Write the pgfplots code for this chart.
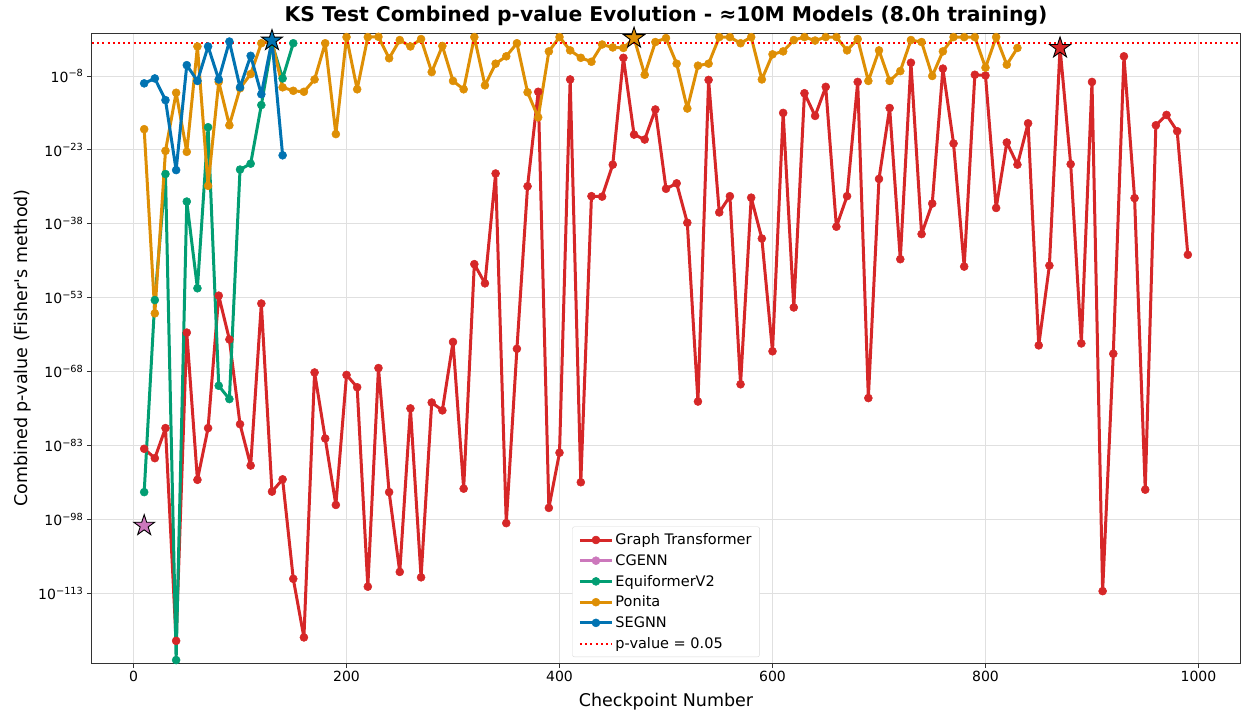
\documentclass[border=0pt]{standalone}
\usepackage{fontspec}
\setmainfont{DejaVu Sans}
\usepackage{pgfplots}
\pgfplotsset{compat=1.18}
\definecolor{cRed}{HTML}{D62728}
\definecolor{cPink}{HTML}{CC78BC}
\definecolor{cGreen}{HTML}{029E73}
\definecolor{cOrange}{HTML}{DE8F05}
\definecolor{cBlue}{HTML}{0173B2}
\pgfdeclareplotmark{fstar}{%
  \pgfpathmoveto{\pgfpointpolar{90}{\pgfplotmarksize}}%
  \pgfpathlineto{\pgfpointpolar{126}{0.382\pgfplotmarksize}}%
  \pgfpathlineto{\pgfpointpolar{162}{\pgfplotmarksize}}%
  \pgfpathlineto{\pgfpointpolar{198}{0.382\pgfplotmarksize}}%
  \pgfpathlineto{\pgfpointpolar{234}{\pgfplotmarksize}}%
  \pgfpathlineto{\pgfpointpolar{270}{0.382\pgfplotmarksize}}%
  \pgfpathlineto{\pgfpointpolar{306}{\pgfplotmarksize}}%
  \pgfpathlineto{\pgfpointpolar{342}{0.382\pgfplotmarksize}}%
  \pgfpathlineto{\pgfpointpolar{18}{\pgfplotmarksize}}%
  \pgfpathlineto{\pgfpointpolar{54}{0.382\pgfplotmarksize}}%
  \pgfpathclose
  \pgfusepathqfillstroke
}
\pgfplotsset{series/.style={#1, line width=3pt, line join=round, mark=*, mark size=4pt, mark options={solid, line width=0.5pt, fill=#1, draw=#1}}}
\begin{document}
\begin{tikzpicture}
\begin{axis}[
  scale only axis, width=1148pt, height=630pt,
  xmin=-39, xmax=1039,
  ymode=log, ymin=6.3e-128, ymax=5.4,
  xtick={0,200,400,600,800,1000},
  ytick={1e-113,1e-98,1e-83,1e-68,1e-53,1e-38,1e-23,1e-8},
  yticklabels={10\textsuperscript{−113},10\textsuperscript{−98},10\textsuperscript{−83},10\textsuperscript{−68},10\textsuperscript{−53},10\textsuperscript{−38},10\textsuperscript{−23},10\textsuperscript{−8}},
  minor tick num=0,
  xtick pos=bottom, ytick pos=left,
  tick align=outside, major tick length=5pt,
  tick style={black!80, line width=0.9pt},
  xticklabel style={/pgf/number format/assume math mode=true, /pgf/number format/1000 sep={}},
  ticklabel style={font=\fontsize{14}{16}\selectfont},
  grid=major, major grid style={black!12, line width=0.9pt},
  axis line style={black!80, line width=1pt},
  title={KS Test Combined p-value Evolution - ≈10M Models (8.0h training)},
  title style={font=\fontsize{20.3}{23}\selectfont\bfseries, yshift=-2pt},
  xlabel={Checkpoint Number},
  xlabel style={yshift=-4pt},
  ylabel={Combined p-value (Fisher\textquotesingle s method)},
  label style={font=\fontsize{17.5}{20}\selectfont},
  legend style={at={(0.5,0.0095)}, anchor=south, draw=black!15, rounded corners=2pt, fill=white,
    font=\fontsize{14.5}{17}\selectfont, row sep=4.3pt, inner xsep=6pt, inner ysep=5pt, cells={anchor=west}},
  legend image code/.code={\draw[mark repeat=2,mark phase=2] plot coordinates {(0pt,0pt)(16pt,0pt)(32pt,0pt)};},
]
% Graph Transformer
\addplot[series=cRed] coordinates {
(10,2.0e-84)(20,2.5e-86)(30,3.2e-80)(40,2.0e-123)(50,7.9e-61)(60,1e-90)(70,3.2e-80)(80,2.5e-53)(90,3.2e-62)(100,2.0e-79)
(110,7.9e-88)(120,6.3e-55)(130,4.0e-93)(140,1.26e-90)(150,7.9e-111)(160,1e-122)(170,6.3e-69)(180,2.5e-82)(190,7.9e-96)(200,2.0e-69)
(210,6.3e-72)(220,2.0e-112)(230,5.0e-68)(240,3.2e-93)(250,2.0e-109)(260,3.2e-76)(270,1.6e-110)(280,5.0e-75)(290,1.26e-76)(300,1e-62)
(310,1.6e-92)(320,6.3e-47)(330,7.9e-51)(340,1.6e-28)(350,1.6e-99)(360,4.0e-64)(370,4.0e-31)(380,6.3e-12)(390,2.0e-96)(400,3.2e-85)
(410,2.0e-9)(420,3.2e-91)(430,4.0e-33)(440,3.2e-33)(450,1e-26)(460,5.0e-5)(470,1.26e-20)(480,1.26e-21)(490,1.6e-15)(500,1.26e-31)
(510,1.6e-30)(520,1.6e-38)(530,7.9e-75)(540,1.6e-9)(550,2.0e-36)(560,4.0e-33)(570,2.5e-71)(580,2.0e-33)(590,1e-41)(600,1.26e-64)
(610,3.2e-16)(620,1e-55)(630,3.2e-12)(640,7.9e-17)(650,6.3e-11)(660,2.5e-39)(670,4.0e-33)(680,6.3e-10)(690,4.0e-74)(700,1.26e-29)
(710,3.2e-15)(720,6.3e-46)(730,5.0e-6)(740,7.9e-41)(750,1.26e-34)(760,3.2e-7)(770,2.0e-22)(780,2.0e-47)(790,1.8e-8)(800,1.3e-8)
(810,1.6e-35)(820,3.2e-22)(830,1e-26)(840,2.5e-18)(850,2.0e-63)(860,3.2e-47)(870,5.0e-3)(880,1.26e-26)(890,5.0e-63)(900,6.3e-10)
(910,2.5e-113)(920,4.0e-65)(930,1e-4)(940,1.6e-33)(950,1e-92)(960,1e-18)(970,1.26e-16)(980,6.3e-20)(990,5.0e-45)
};
\addlegendentry{Graph Transformer}
% CGENN
\addplot[series=cPink] coordinates {(10,5e-100)};
\addlegendentry{CGENN}
% EquiformerV2
\addplot[series=cGreen] coordinates {
(10,3.2e-93)(20,3.2e-54)(30,1.26e-28)(40,2.5e-127)(50,3.2e-34)(60,7.9e-52)(70,4.0e-19)(80,1.26e-71)(90,2.5e-74)(100,1e-27)
(110,1.6e-26)(120,1.26e-14)(130,4.5e-2)(140,3.2e-9)(150,4.5e-2)
};
\addlegendentry{EquiformerV2}
% Ponita
\addplot[series=cOrange] coordinates {
(10,1.6e-19)(20,6.3e-57)(30,6.3e-24)(40,4.0e-12)(50,4.0e-24)(60,1e-2)(70,5.0e-31)(80,6.3e-10)(90,1e-18)(100,3.2e-11)
(110,2.5e-8)(120,4.5e-2)(130,0.1)(140,5.0e-11)(150,1e-11)(160,6.3e-12)(170,2.0e-9)(180,4.5e-2)(190,1.6e-20)(200,0.8)
(210,2.0e-11)(220,0.8)(230,0.9)(240,4.0e-5)(250,0.2)(260,1e-2)(270,0.32)(280,6.3e-8)(290,1.26e-2)(300,1e-9)
(310,2.0e-11)(320,0.8)(330,1.26e-10)(340,3.2e-6)(350,1e-4)(360,4.5e-2)(370,5.0e-12)(380,4.0e-17)(390,1e-3)(400,0.8)
(410,1.6e-3)(420,5.0e-5)(430,7.9e-6)(440,2.5e-2)(450,6.3e-3)(460,5.0e-3)(470,0.5)(480,1.8e-8)(490,7.9e-2)(500,0.5)
(510,3.2e-6)(520,2.5e-15)(530,1.26e-6)(540,3.2e-6)(550,0.8)(560,0.8)(570,4.5e-2)(580,0.8)(590,2.0e-9)(600,2.5e-4)
(610,1e-3)(620,0.2)(630,0.8)(640,0.16)(650,0.8)(660,0.8)(670,1.6e-3)(680,0.32)(690,1e-9)(700,1.6e-3)
(710,1e-9)(720,1e-7)(730,0.2)(740,7.9e-2)(750,1e-8)(760,1e-3)(770,0.8)(780,0.8)(790,0.8)(800,5.0e-7)
(810,0.8)(820,2.0e-6)(830,5.0e-3)
};
\addlegendentry{Ponita}
% SEGNN
\addplot[series=cBlue] coordinates {
(10,3.2e-10)(20,3.2e-9)(30,1.26e-13)(40,7.9e-28)(50,1.6e-6)(60,1e-9)(70,1e-2)(80,2.0e-9)(90,0.1)(100,5.0e-11)
(110,1.26e-4)(120,2.0e-12)(130,0.16)(140,7.9e-25)
};
\addlegendentry{SEGNN}
% threshold
\addplot[red, line width=2pt, dash pattern=on 2pt off 3.2pt, mark=none] coordinates {(-39,0.05)(1039,0.05)};
\addlegendentry{p-value = 0.05}
% best-checkpoint stars
\addplot[only marks, mark=fstar, mark size=11pt, mark options={fill=cRed, draw=black, line width=0.9pt}, forget plot] coordinates {(870,5.0e-3)};
\addplot[only marks, mark=fstar, mark size=11pt, mark options={fill=cPink, draw=black, line width=0.9pt}, forget plot] coordinates {(10,5e-100)};
\addplot[only marks, mark=fstar, mark size=11pt, mark options={fill=cOrange, draw=black, line width=0.9pt}, forget plot] coordinates {(470,0.5)};
\addplot[only marks, mark=fstar, mark size=11pt, mark options={fill=cBlue, draw=black, line width=0.9pt}, forget plot] coordinates {(130,0.16)};
\end{axis}
\pgfresetboundingbox
\path ([xshift=-92pt,yshift=-48pt]current axis.south west) rectangle ([xshift=1pt,yshift=33pt]current axis.north east);
\end{tikzpicture}
\end{document}
